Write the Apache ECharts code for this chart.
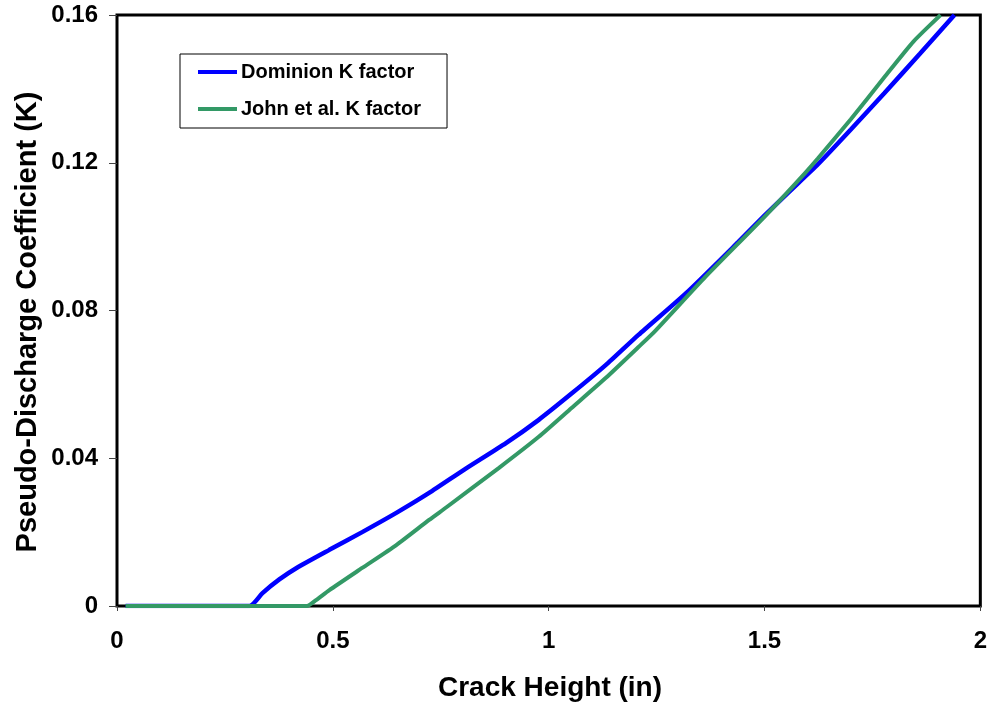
<!DOCTYPE html>
<html>
<head>
<meta charset="utf-8">
<script src="https://cdn.jsdelivr.net/npm/echarts@6/dist/echarts.min.js"></script>
<style>html,body{margin:0;padding:0;background:#fff;}#c{width:990px;height:704px;}</style>
</head>
<body>
<div id="c"></div>
<script>
const seriesNames = ['Dominion K factor', 'John et al. K factor'];
const dominion = [[0.02,0],[0.307,0],[0.337,0.0035],[0.376,0.0072],[0.416,0.0103],[0.492,0.0152],[0.568,0.0200],[0.647,0.0252],[0.723,0.0306],[0.808,0.0372],[0.901,0.0441],[0.977,0.0504],[1.053,0.0575],[1.132,0.0652],[1.208,0.0734],[1.323,0.0852],[1.439,0.0985],[1.501,0.1058],[1.554,0.1118],[1.624,0.1196],[1.700,0.1290],[1.778,0.1389],[1.860,0.1495],[1.940,0.1600]];
const john = [[0.02,0],[0.440,0],[0.460,0.0015],[0.492,0.0043],[0.568,0.0103],[0.647,0.0165],[0.723,0.0233],[0.764,0.0268],[0.885,0.0374],[0.977,0.0458],[1.053,0.0536],[1.132,0.0617],[1.208,0.0701],[1.247,0.0745],[1.363,0.0891],[1.501,0.1055],[1.594,0.1172],[1.624,0.1212],[1.700,0.1318],[1.778,0.1432],[1.845,0.1528],[1.908,0.1600]];
const xTicks = [0, 0.5, 1, 1.5, 2];
const yTicks = [0, 0.04, 0.08, 0.12, 0.16];
const xName = 'Crack Height (in)';
const yName = 'Pseudo-Discharge Coefficient (K)';

const chart = echarts.init(document.getElementById('c'));
const font = 'Liberation Sans, Arial, sans-serif';
chart.setOption({
  animation: false,
  backgroundColor: '#fff',
  grid: {left: 117, right: 7, top: 15, bottom: 98, show: true, borderColor: '#000', borderWidth: 3, backgroundColor: 'transparent'},
  legend: {
    left: 180, top: 54, orient: 'vertical', itemGap: 17,
    data: seriesNames,
    icon: 'rect', itemWidth: 39, itemHeight: 4,
    padding: [8, 26, 9, 18],
    borderColor: '#000', borderWidth: 1, backgroundColor: '#fff',
    textStyle: {fontFamily: font, fontWeight: 'bold', fontSize: 20, color: '#000', padding: [0,0,0,-1], lineHeight: 20}
  },
  graphic: [
    {type: 'text', x: 550, y: 688, style: {text: xName, x: 0, y: 0, align: 'center', verticalAlign: 'middle',
      font: 'bold 28px ' + font, fill: '#000'}},
    {type: 'text', rotation: Math.PI/2, x: 28, y: 322, style: {text: yName, x: 0, y: 0, align: 'center', verticalAlign: 'middle',
      font: 'bold 29px ' + font, fill: '#000'}}
  ],
  xAxis: {
    type: 'value', min: xTicks[0], max: xTicks[xTicks.length-1], interval: 0.5,
    axisLine: {show: false},
    axisTick: {show: true, length: 5, lineStyle: {color: '#444', width: 1}},
    splitLine: {show: false},
    axisLabel: {fontFamily: font, fontWeight: 'bold', fontSize: 24, color: '#000', margin: 23,
      formatter: v => String(v)}
  },
  yAxis: {
    type: 'value', min: yTicks[0], max: yTicks[yTicks.length-1], interval: 0.04,
    axisLine: {show: false},
    axisTick: {show: true, length: 8, lineStyle: {color: '#444', width: 1}},
    splitLine: {show: false},
    axisLabel: {fontFamily: font, fontWeight: 'bold', fontSize: 24, color: '#000', margin: 19,
      formatter: v => v === 0 ? '0' : v.toFixed(2)}
  },
  series: [
    {name: seriesNames[0], type: 'line', data: dominion, showSymbol: false, symbol: 'none', clip: true, smooth: 0.2,
     lineStyle: {color: '#0000FF', width: 4.5}, itemStyle: {color: '#0000FF'}, z: 2},
    {name: seriesNames[1], type: 'line', data: john, showSymbol: false, symbol: 'none', clip: true, smooth: 0.2,
     lineStyle: {color: '#339966', width: 4}, itemStyle: {color: '#339966'}, z: 3}
  ]
});
</script>
</body>
</html>
